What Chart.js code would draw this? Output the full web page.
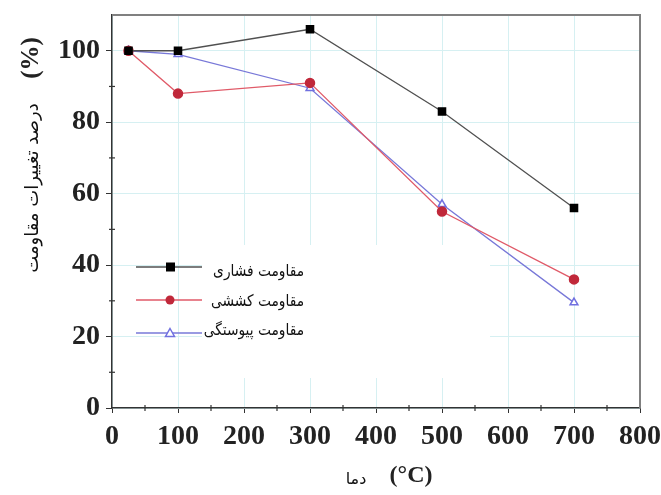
<!DOCTYPE html>
<html>
<head>
<meta charset="utf-8">
<script src="https://cdn.jsdelivr.net/npm/chart.js@4"></script>
<style>
html,body{margin:0;padding:0;background:#fff;}
#wrap{width:661px;height:495px;position:relative;}
</style>
</head>
<body>
<div id="wrap"><canvas id="c" width="661" height="495"></canvas></div>
<script>
// Data
const temps = [25, 100, 300, 500, 700];
const compressive = [100, 100, 106, 83, 56];
const tensile = [100, 88, 91, 55, 36];
const bond = [100, 99, 89.5, 57, 29.5];
const xTicks = [0, 100, 200, 300, 400, 500, 600, 700, 800];
const yTicks = [0, 20, 40, 60, 80, 100];
const seriesNames = ['مقاومت فشاری', 'مقاومت کششی', 'مقاومت پیوستگی'];
const yTitle = 'درصد تغییرات مقاومت';
const yUnit = '(%)';
const xTitle = 'دما';
const xUnit = '(°C)';

const toPts = arr => temps.map((t, i) => ({x: t, y: arr[i]}));

const styles = [
  {line: '#505050', fill: '#000000', border: '#000000', shape: 'rect'},
  {line: '#e05a68', fill: '#c0283a', border: '#c0283a', shape: 'circle'},
  {line: '#7878d8', fill: '#ffffff', border: '#7070e0', shape: 'triangle'}
];

const extras = {
  id: 'extras',
  afterDraw(chart) {
    const ctx = chart.ctx;
    const a = chart.chartArea;
    const xs = chart.scales.x, ys = chart.scales.y;
    ctx.save();
    // frame top/right
    ctx.strokeStyle = '#808080';
    ctx.lineWidth = 2;
    ctx.beginPath();
    ctx.moveTo(a.left, a.top); ctx.lineTo(a.right, a.top); ctx.lineTo(a.right, a.bottom);
    ctx.stroke();
    // minor ticks
    ctx.strokeStyle = '#333';
    ctx.lineWidth = 1.2;
    for (let v = 50; v < 800; v += 100) {
      const px = xs.getPixelForValue(v);
      ctx.beginPath(); ctx.moveTo(px, a.bottom - 3); ctx.lineTo(px, a.bottom + 3); ctx.stroke();
    }
    for (let v = 10; v < 110; v += 20) {
      const py = ys.getPixelForValue(v);
      ctx.beginPath(); ctx.moveTo(a.left - 3, py); ctx.lineTo(a.left + 3, py); ctx.stroke();
    }
    // legend box
    ctx.fillStyle = '#ffffff';
    ctx.fillRect(202, 245, 288, 133);
    const ly = [267, 300, 333];
    const ty = [272, 302, 331];
    styles.forEach((s, i) => {
      ctx.strokeStyle = s.line;
      ctx.lineWidth = 1.5;
      ctx.beginPath(); ctx.moveTo(136, ly[i]); ctx.lineTo(202, ly[i]); ctx.stroke();
      ctx.fillStyle = s.fill;
      ctx.strokeStyle = s.border;
      ctx.lineWidth = 1.5;
      if (s.shape === 'rect') {
        ctx.fillRect(166, ly[i] - 4.5, 9, 9);
      } else if (s.shape === 'circle') {
        ctx.beginPath(); ctx.arc(170, ly[i], 4.5, 0, Math.PI * 2); ctx.fill();
      } else {
        ctx.beginPath(); ctx.moveTo(170, ly[i] - 4.5); ctx.lineTo(174.5, ly[i] + 3.5); ctx.lineTo(165.5, ly[i] + 3.5); ctx.closePath(); ctx.fill(); ctx.stroke();
      }
      ctx.save();
      ctx.translate(304, ty[i]);
      ctx.scale(0.86, 1);
      ctx.fillStyle = '#111';
      ctx.font = '16px "DejaVu Sans"';
      ctx.direction = 'rtl';
      ctx.textAlign = 'right';
      ctx.textBaseline = 'middle';
      ctx.fillText(seriesNames[i], 0, 0);
      ctx.restore();
    });
    // y title
    ctx.save();
    ctx.direction = 'rtl';
    ctx.translate(33, 188);
    ctx.rotate(-Math.PI / 2);
    ctx.textAlign = 'center';
    ctx.textBaseline = 'middle';
    ctx.fillStyle = '#111';
    ctx.font = '18px "DejaVu Sans"';
    ctx.fillText(yTitle, 0, 0);
    ctx.restore();
    ctx.save();
    ctx.direction = 'ltr';
    ctx.translate(32, 58);
    ctx.rotate(-Math.PI / 2);
    ctx.textAlign = 'center';
    ctx.textBaseline = 'middle';
    ctx.fillStyle = '#222';
    ctx.font = 'bold 25px "Liberation Serif"';
    ctx.fillText(yUnit, 0, 0);
    ctx.restore();
    // x title
    ctx.direction = 'rtl';
    ctx.textAlign = 'center';
    ctx.textBaseline = 'middle';
    ctx.fillStyle = '#111';
    ctx.font = '16px "DejaVu Sans"';
    ctx.fillText(xTitle, 356, 480);
    ctx.direction = 'ltr';
    ctx.font = 'bold 24px "Liberation Serif"';
    ctx.fillStyle = '#222';
    ctx.fillText(xUnit, 411, 476);
    ctx.restore();
  }
};

const datasets = [compressive, tensile, bond].map((arr, i) => ({
  label: seriesNames[i],
  data: toPts(arr),
  borderColor: styles[i].line,
  borderWidth: 1.3,
  backgroundColor: styles[i].fill,
  pointBackgroundColor: styles[i].fill,
  pointBorderColor: styles[i].border,
  pointBorderWidth: 1.5,
  pointStyle: styles[i].shape,
  pointRadius: i === 0 ? 5 : 4.5,
  tension: 0,
  fill: false
}));

new Chart(document.getElementById('c'), {
  type: 'line',
  data: {datasets},
  options: {
    responsive: false,
    animation: false,
    layout: {padding: {top: 15, right: 21, left: 0, bottom: 0}},
    plugins: {legend: {display: false}, tooltip: {enabled: false}},
    scales: {
      x: {
        type: 'linear',
        min: 0, max: 800,
        afterBuildTicks: s => { s.ticks = xTicks.map(v => ({value: v})); },
        afterFit: s => { s.height = 87; s.paddingLeft = 0; s.paddingRight = 0; },
        grid: {color: '#d6f0f2', lineWidth: 1, tickColor: '#333', tickLength: 5, drawOnChartArea: true},
        border: {color: '#333', width: 1.5},
        ticks: {color: '#222', font: {family: 'Liberation Serif', weight: 'bold', size: 28}, padding: 7, maxRotation: 0}
      },
      y: {
        min: 0, max: 110,
        afterBuildTicks: s => { s.ticks = yTicks.map(v => ({value: v})); },
        afterFit: s => { s.width = 112; s.paddingTop = 0; s.paddingBottom = 0; },
        grid: {color: '#d6f0f2', lineWidth: 1, tickColor: '#333', tickLength: 6},
        border: {color: '#333', width: 1.5},
        ticks: {color: '#222', font: {family: 'Liberation Serif', weight: 'bold', size: 28}, padding: 6}
      }
    }
  },
  plugins: [extras]
});
</script>
</body>
</html>
